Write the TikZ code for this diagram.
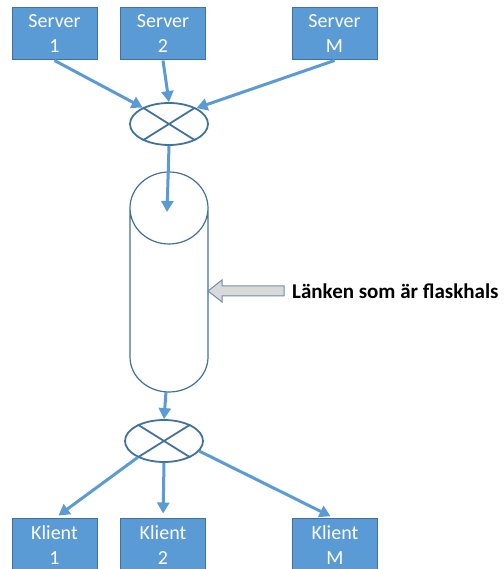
\documentclass[tikz,border=0pt]{standalone}
\usepackage{fontspec}
\setmainfont{Carlito}
\usetikzlibrary{arrows.meta,shapes.geometric}
\definecolor{boxfill}{HTML}{5B9BD5}
\definecolor{boxline}{HTML}{41719C}
\definecolor{arrowblue}{HTML}{5B9BD5}
\definecolor{lblfill}{HTML}{D9D9D9}
\definecolor{lblline}{HTML}{6F8FB0}
\tikzset{
  hostbox/.style={draw=boxline, line width=1pt, fill=boxfill, minimum width=85pt, minimum height=52pt, inner sep=0pt,
    text=white, align=center, font=\fontsize{20pt}{25pt}\selectfont},
  switchnode/.style={draw=boxline, line width=1.8pt, ellipse, minimum width=78pt, minimum height=42pt, inner sep=0pt},
  crossline/.style={draw=boxline, line width=1.8pt},
  flow/.style={draw=arrowblue, line width=3pt, -{Triangle[length=11pt,width=12pt]}},
  cyl/.style={draw=boxline, line width=1.2pt, fill=white},
  blockarr/.style={draw=lblline, line width=1pt, fill=lblfill}
}
\begin{document}
\begin{tikzpicture}[x=1pt,y=1pt]
\useasboundingbox (0,0) rectangle (503,569);
% servers
\node[hostbox] (s1) at (54.5,535) {Server\\1};
\node[hostbox] (s2) at (163,535) {Server\\2};
\node[hostbox] (sM) at (334.5,535) {Server\\M};
% clients
\node[hostbox] (k1) at (54.5,24) {Klient\\1};
\node[hostbox] (k2) at (163,24) {Klient\\2};
\node[hostbox] (kM) at (335,24) {Klient\\M};
% switches
\node[switchnode] (tx) at (169,445) {};
\draw[crossline] (tx.148) -- (tx.-32) (tx.32) -- (tx.-148);
\node[switchnode] (bx) at (164,128) {};
\draw[crossline] (bx.148) -- (bx.-32) (bx.32) -- (bx.-148);
% cylinder
\draw[cyl] (130,361) -- (130,212) arc[start angle=180,end angle=360,x radius=39pt,y radius=35pt]
  -- (208,361) arc[start angle=0,end angle=180,x radius=39pt,y radius=36pt]
  arc[start angle=180,end angle=360,x radius=39pt,y radius=36pt];
\coordinate (cyltop) at (167,357);
\coordinate (cylbot) at (166,177);
\coordinate (cylside) at (208,278);
% flows
\draw[flow] (s1.south) -- (tx.148);
\draw[flow] (s2.south) -- (tx.north);
\draw[flow] (sM.south) -- (tx.30);
\draw[flow] (tx.south) -- (cyltop);
\draw[flow] (cylbot) -- (bx.north);
\draw[flow, shorten >=5pt] (bx.212) -- (k1.north);
\draw[flow, shorten >=5pt] (bx.south) -- (k2.north);
\draw[flow, shorten >=5pt] (bx.-16) -- (kM.north);
% label arrow
\draw[blockarr] (cylside) -- ++(14,11) -- ++(0,-6) -- ++(62,0) -- ++(0,-10) -- ++(-62,0) -- ++(0,-6) -- cycle;
\node[anchor=west, inner sep=0pt, font=\bfseries\fontsize{21pt}{24pt}\selectfont] (lbl) at (292,278) {Länken som är flaskhals};
\end{tikzpicture}
\end{document}
